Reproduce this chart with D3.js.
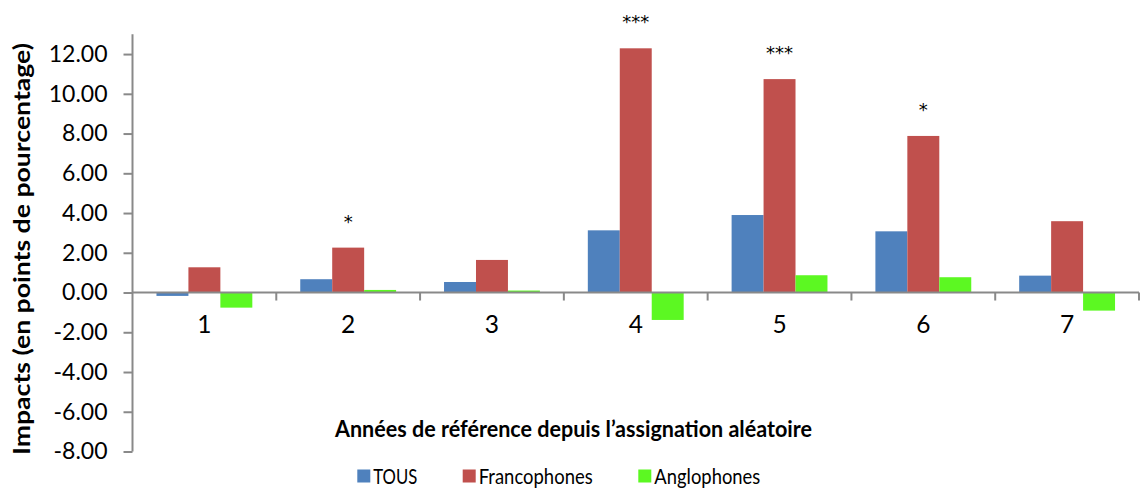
<!DOCTYPE html>
<html>
<head>
<meta charset="utf-8">
<script src="https://cdn.jsdelivr.net/npm/d3@7"></script>
<style>
  html, body { margin: 0; padding: 0; background: #fff; }
  svg { display: block; }
  text { font-family: Lato, "Open Sans", "Liberation Sans", sans-serif; fill: #000; }
</style>
</head>
<body>
<svg id="chart" width="1140" height="491"></svg>
<script>
const categories = ["1", "2", "3", "4", "5", "6", "7"];
const seriesNames = ["TOUS", "Francophones", "Anglophones"];
const tous = [-0.17, 0.67, 0.53, 3.13, 3.90, 3.08, 0.85];
const francophones = [1.27, 2.26, 1.64, 12.29, 10.74, 7.88, 3.59];
const anglophones = [-0.76, 0.13, 0.10, -1.38, 0.87, 0.77, -0.91];
const significance = ["", "*", "", "***", "***", "*", ""];
const yTickValues = [-8, -6, -4, -2, 0, 2, 4, 6, 8, 10, 12];
const yAxisTitle = "Impacts (en points de pourcentage)";
const xAxisTitle = "Années de référence depuis l\u2019assignation aléatoire";

const colors = { "TOUS": "#4f81bd", "Francophones": "#c0504d", "Anglophones": "#5cf822" };
const values = { "TOUS": tous, "Francophones": francophones, "Anglophones": anglophones };

const rows = categories.map((c, i) => ({
  cat: c,
  bars: seriesNames.map(s => ({ series: s, value: values[s][i] })),
  sig: significance[i],
  red: francophones[i]
}));

const svg = d3.select("#chart");
const axisColor = "#898989";

const y = d3.scaleLinear().domain([-8, 13]).range([451.5, 34.2]);
const x = d3.scaleBand().domain(categories).range([132.5, 1139]).paddingInner(0).paddingOuter(0);
const xs = d3.scaleBand().domain(seriesNames).range([0, x.bandwidth()]).paddingInner(0).paddingOuter(0.75);

// Bars
const g = svg.append("g");
const groups = g.selectAll("g.cat").data(rows).join("g")
  .attr("class", "cat")
  .attr("transform", d => `translate(${x(d.cat)},0)`);

groups.selectAll("rect").data(d => d.bars).join("rect")
  .attr("x", d => xs(d.series))
  .attr("width", xs.bandwidth())
  .attr("y", d => y(Math.max(0, d.value)))
  .attr("height", d => Math.abs(y(d.value) - y(0)))
  .attr("fill", d => colors[d.series]);

// Significance stars
groups.filter(d => d.sig).append("text")
  .attr("x", xs("Francophones") + xs.bandwidth() / 2)
  .attr("y", d => y(d.red) - 20)
  .attr("text-anchor", "middle")
  .style("font-family", "'DejaVu Sans', sans-serif")
  .style("font-size", "18px")
  .text(d => d.sig);

// Y axis
const yAxis = d3.axisLeft(y).tickValues(yTickValues).tickSize(9).tickPadding(16)
  .tickFormat(d => d.toFixed(2));
const yg = svg.append("g").attr("transform", "translate(132.5,0)").call(yAxis);
yg.select(".domain").remove();
yg.append("line").attr("x1", 0).attr("x2", 0).attr("y1", y(13)).attr("y2", y(-8))
  .attr("stroke", axisColor).attr("stroke-width", 2);
yg.selectAll(".tick line").attr("stroke", axisColor).attr("stroke-width", 2);
yg.selectAll(".tick text").style("font-size", "23px").attr("fill", "#000")
  .style("font-family", "Lato, sans-serif");

// X axis at zero
const xg = svg.append("g").attr("transform", `translate(0,${y(0)})`);
xg.append("line").attr("x1", x.range()[0]).attr("x2", x.range()[1]).attr("y1", 0).attr("y2", 0)
  .attr("stroke", axisColor).attr("stroke-width", 2);
const boundaries = categories.map(c => x(c) + x.bandwidth());
xg.selectAll("line.tk").data(boundaries).join("line").attr("class", "tk")
  .attr("x1", d => d).attr("x2", d => d).attr("y1", 0).attr("y2", 8)
  .attr("stroke", axisColor).attr("stroke-width", 2);
xg.selectAll("text.cl").data(categories).join("text").attr("class", "cl")
  .attr("x", d => x(d) + x.bandwidth() / 2)
  .attr("y", 40)
  .attr("text-anchor", "middle")
  .style("font-size", "24.5px")
  .text(d => d);

// Axis titles
svg.append("text")
  .attr("transform", `translate(30,249) rotate(-90)`)
  .attr("text-anchor", "middle")
  .style("font-size", "23px").style("font-weight", "bold")
  .attr("textLength", 412).attr("lengthAdjust", "spacingAndGlyphs")
  .text(yAxisTitle);

svg.append("text")
  .attr("x", 573.5).attr("y", 437)
  .attr("text-anchor", "middle")
  .style("font-size", "22px").style("font-weight", "bold")
  .attr("textLength", 477).attr("lengthAdjust", "spacingAndGlyphs")
  .text(xAxisTitle);

// Legend
const legendX = [357.3, 462.7, 638.3];
const legendTextLen = [44, 114, 106];
const lg = svg.append("g");
const items = lg.selectAll("g").data(seriesNames).join("g")
  .attr("transform", (d, i) => `translate(${legendX[i]},476)`);
items.append("rect").attr("x", 0).attr("y", -6.5).attr("width", 13).attr("height", 13)
  .attr("fill", d => colors[d]);
items.append("text").attr("x", 16).attr("y", 8)
  .style("font-size", "22px")
  .attr("textLength", (d, i) => legendTextLen[i]).attr("lengthAdjust", "spacingAndGlyphs")
  .text(d => d);
</script>
</body>
</html>
